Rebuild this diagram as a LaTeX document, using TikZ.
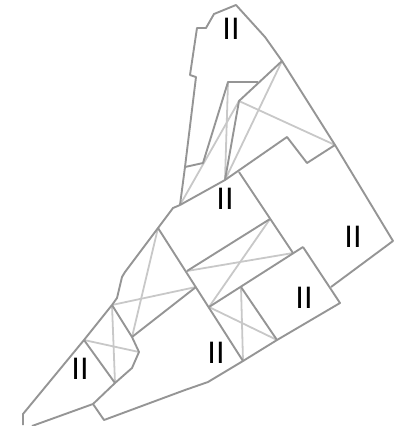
\documentclass[tikz,border=0pt]{standalone}
\usepackage{fontspec}
\setmainfont{Liberation Sans}
\usetikzlibrary{positioning}
\definecolor{EdgeGray}{HTML}{959595}
\definecolor{CrossGray}{HTML}{C8C8C8}
\tikzset{
  edge/.style={draw=EdgeGray, line width=1.9pt, line join=round},
  cross/.style={draw=CrossGray, line width=1.8pt},
  zone/.style={inner sep=0pt, font=\fontsize{31}{31}\selectfont, text=black}
}
\begin{document}
\begin{tikzpicture}[x=1pt, y=-1pt]
\useasboundingbox (0,0) rectangle (394,426);

\coordinate (n1) at (180,205);
\coordinate (n2) at (225,180);
\coordinate (n3) at (239,101);
\coordinate (n4) at (282,61);
\coordinate (n5) at (335,145);
\coordinate (n6) at (228,82);
\coordinate (n7) at (203,163);
\coordinate (n8) at (185,167);
\coordinate (m1) at (158,228);
\coordinate (m2) at (243,361);
\coordinate (m3) at (270,219);
\coordinate (m4) at (187,271);
\coordinate (m5) at (293,253);
\coordinate (m6) at (209,307);
\coordinate (m7) at (303,247);
\coordinate (m8) at (241,287);
\coordinate (m9) at (277,340);
\coordinate (m10) at (196,287);
\coordinate (m11) at (132,337);
\coordinate (w1) at (112,305);
\coordinate (w2) at (84,340);
\coordinate (w3) at (115,383);
\coordinate (w4) at (139,352);
\coordinate (w5) at (93,404);

% crossings
\draw[cross] (n1) -- (n3);
\draw[cross] (n2) -- (n4);
\draw[cross] (n3) -- (n5);
\draw[cross] (n6) -- (n2);
\draw[cross] (m1) -- (m11);
\draw[cross] (w1) -- (m10);
\draw[cross] (m4) -- (m5);
\draw[cross] (m3) -- (m6);
\draw[cross] (m8) -- (m2);
\draw[cross] (m6) -- (m9);
\draw[cross] (w1) -- (w3);
\draw[cross] (w2) -- (w4);

% outline
\draw[edge] (n1) -- (n8) -- (196,77) -- (190,75) -- (197,28) -- (206,28) -- (214,14)
  -- (236,5) -- (265,37) -- (n4) -- (n5) -- (393,241) -- (331,287);
\draw[edge] (m7) -- (340,303) -- (m9) -- (m2) -- (208,382) -- (185,390) -- (104,420)
  -- (w5) -- (w3) -- (132,368) -- (w4) -- (m11) -- (w1);
\draw[edge] (w5) -- (32,426);
\draw[edge] (w1) -- (w2) -- (23,414) -- (23,425);
\draw[edge] (w2) -- (w3);
\draw[edge] (w1) -- (117,298) -- (122,277) -- (125,272) -- (m1) -- (173,208) -- (n1);

% inner walls
\draw[edge] (n1) -- (n2) -- (287,137) -- (307,163) -- (n5);
\draw[edge] (n2) -- (n3) -- (n4);
\draw[edge] (n8) -- (n7) -- (n6) -- (258,82);
\draw[edge] (239,172) -- (m5);
\draw[edge] (m1) -- (m2);
\draw[edge] (m4) -- (m3);
\draw[edge] (m6) -- (m7);
\draw[edge] (m8) -- (m9);
\draw[edge] (m11) -- (m10);

\node[zone] (z1) at (231,29) {II};
\node[zone] (z2) at (225,199) {II};
\node[zone] (z3) at (353,237) {II};
\node[zone] (z4) at (304,298) {II};
\node[zone] (z5) at (216,353) {II};
\node[zone] (z6) at (80,369) {II};
\end{tikzpicture}
\end{document}
